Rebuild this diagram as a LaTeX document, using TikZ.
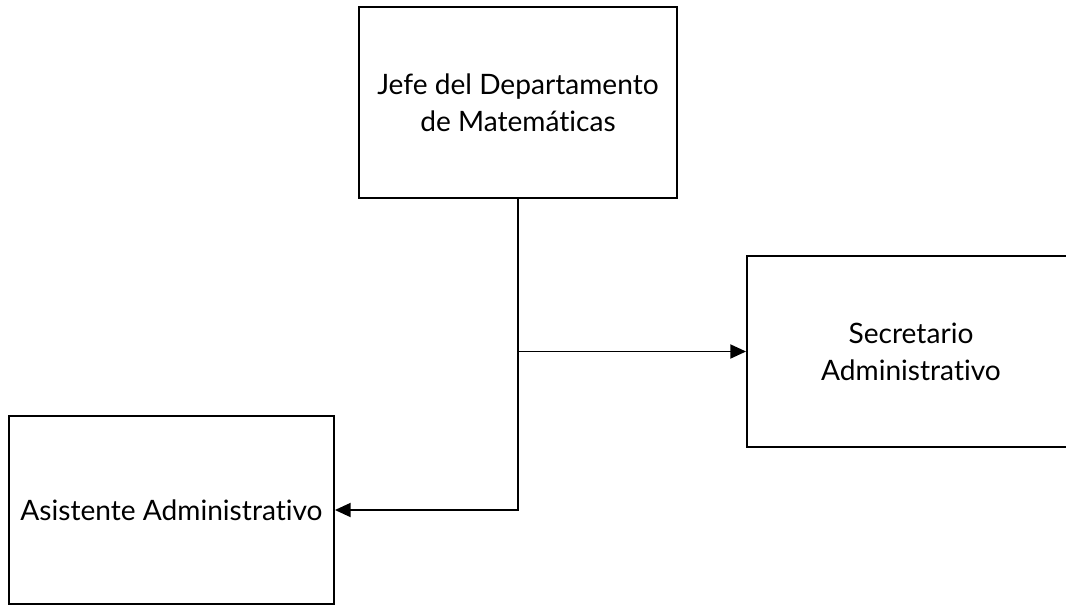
\documentclass[tikz,border=0pt]{standalone}
\usepackage{fontspec}
\setmainfont{Lato}[Ligatures=NoCommon]
\usetikzlibrary{arrows.meta}
\tikzset{
  cargo/.style={draw,line width=1.1pt,align=center,font=\fontsize{16}{21}\selectfont,inner sep=0pt},
  enlace/.style={line width=1.1pt,-{Triangle[length=9pt,width=8pt]}}
}
\begin{document}
\begin{tikzpicture}[x=0.02cm,y=-0.02cm]
        \useasboundingbox (0,0) rectangle (1066,606);
        \node[cargo,minimum width=6.36cm,minimum height=3.82cm] (jefe) at (518,102.5) {Jefe del Departamento\\de Matemáticas};
        \node[cargo,minimum width=6.56cm,minimum height=3.82cm] (secretario) at (911,351.5) {Secretario\\Administrativo};
        \node[cargo,minimum width=6.5cm,minimum height=3.76cm] (asistente) at (171.5,510) {Asistente Administrativo};
        \draw[enlace] (jefe.south) |- (asistente.east);
        \draw[enlace] (jefe.south |- secretario.west) -- (secretario.west);
    \end{tikzpicture}
\end{document}
